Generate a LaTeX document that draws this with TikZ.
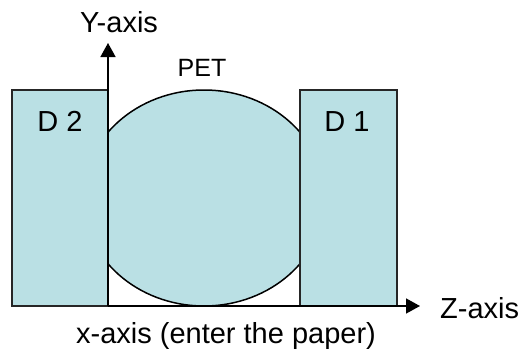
\documentclass[tikz,border=0pt]{standalone}
\usepackage{fontspec}
\setmainfont{Liberation Sans}
\usetikzlibrary{shapes.geometric,arrows.meta}
\definecolor{detfill}{RGB}{186,224,228}
\tikzset{
  detbox/.style={draw=black!85,line width=1.6pt,fill=detfill,inner sep=0pt},
  petshape/.style={ellipse,draw=black,line width=1.5pt,fill=detfill,inner sep=0pt,minimum width=242pt,minimum height=216pt},
  axisline/.style={line width=1.6pt,-{Triangle[width=15pt,length=14pt]}},
  bigtext/.style={inner sep=0pt,anchor=base,font=\fontsize{29}{34}\selectfont},
  pettext/.style={inner sep=0pt,anchor=base,font=\fontsize{25}{30}\selectfont}
}
\begin{document}
\begin{tikzpicture}[x=1pt,y=-1pt]
\useasboundingbox (0,0) rectangle (520,351);
\node[petshape] (pet) at (204,198) {};
\node[detbox,minimum width=96pt,minimum height=216pt] (d2) at (60,198) {};
\node[detbox,minimum width=97pt,minimum height=216pt] (d1) at (348.5,198) {};
\coordinate (o) at (108,306);
\coordinate (ytip) at (108,43);
\coordinate (ztip) at (420,306);
\draw[axisline] (o) -- (ytip);
\draw[axisline] (o) -- (ztip);
\node[bigtext] (ylab) at (119,32) {Y-axis};
\node[pettext] (petlab) at (202,76) {PET};
\node[bigtext] (d2lab) at (60,131) {D 2};
\node[bigtext] (d1lab) at (347,131) {D 1};
\node[bigtext,anchor=base west] (zlab) at (440,318) {Z-axis};
\node[bigtext] (xlab) at (226,343) {x-axis (enter the paper)};
\end{tikzpicture}
\end{document}
